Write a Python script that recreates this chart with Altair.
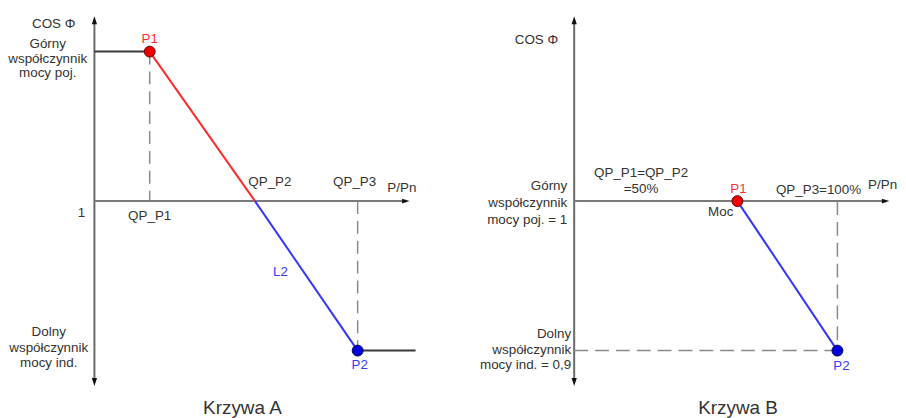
import altair as alt
import pandas as pd

# ---- values ----
# P/Pn positions (in units of QP_P3) and levels (+1 upper PF, 0 = cos phi 1, -1 lower PF)
a_p = [0.21, 0.61, 1.0]        # Krzywa A: QP_P1, QP_P2, QP_P3
a_level = [1.0, 0.0, -1.0]     # P1 level, crossing level, P2 level
b_p = [0.62, 0.62, 1.0]        # Krzywa B: QP_P1 = QP_P2 (=50%), QP_P3 (=100%)
b_level = [0.0, 0.0, -1.0]     # P1 level, (same), P2 level
titles = ["Krzywa A", "Krzywa B"]
axis_top, axis_bottom, axis_right = 1.21, -1.21, 1.183
a_tail = 1.22                  # end of the flat line after P2 on curve A

FONT = "Liberation Sans"
TXT = "#333333"
RED_L, RED_T = "#ff2a2a", "#ff3030"
BLUE_L, BLUE_T = "#3535ff", "#3a3aff"

X = alt.X("x:Q", scale=alt.Scale(domain=[-0.3283, 1.1811], nice=False, zero=False), axis=None)
Y = alt.Y("y:Q", scale=alt.Scale(domain=[-1.2824, 1.2824], nice=False, zero=False), axis=None)


def seg(rows, color, width, dash=None):
    df = pd.DataFrame(rows, columns=["x", "y", "x2", "y2"])
    kw = dict(color=color, strokeWidth=width)
    if dash:
        kw["strokeDash"] = dash
    return alt.Chart(df).mark_rule(**kw).encode(x=X, y=Y, x2="x2:Q", y2="y2:Q")


def pts(rows, fill, stroke, size=120):
    df = pd.DataFrame(rows, columns=["x", "y"])
    return alt.Chart(df).mark_point(filled=True, fill=fill, stroke=stroke, strokeWidth=1,
                                    opacity=1, size=size, shape="circle").encode(x=X, y=Y)


def arrow(x, y, shape, size):
    df = pd.DataFrame({"x": [x], "y": [y]})
    return alt.Chart(df).mark_point(filled=True, fill="#111111", stroke=None, opacity=1,
                                    shape=shape, size=size).encode(x=X, y=Y)


def txt(t, x, y, dx=0, dy=0, align="center", color=TXT, size=13.5, lh=16):
    df = pd.DataFrame({"x": [x], "y": [y], "t": [t]})
    kw = dict(dx=dx, dy=dy, align=align, baseline="middle", color=color,
              fontSize=size, font=FONT)
    if "\n" in t:
        kw.update(lineBreak="\n", lineHeight=lh)
    return alt.Chart(df).mark_text(**kw).encode(x=X, y=Y, text="t:N")


UP = "M0,-0.5L0.33,0.5L-0.33,0.5Z"
DOWN = "M0,0.5L0.33,-0.5L-0.33,-0.5Z"
RIGHT = "M0.5,0L-0.5,-0.33L-0.5,0.33Z"


def axes():
    return [
        seg([[0, axis_bottom, 0, axis_top]], "#6a6a6a", 2),
        seg([[0, 0, axis_right, 0]], "#7a7a7a", 2),
        arrow(0, axis_top, UP, 256),
        arrow(0, axis_bottom, DOWN, 256),
        arrow(axis_right, 0, RIGHT, 225),
    ]


# ---- Krzywa A ----
p1, p2, p3 = a_p
up, mid, low = a_level
layers_a = axes() + [
    seg([[0, up, p1, up], [p3, low, a_tail, low]], "#3a3a3a", 2),
    seg([[p1, up, p1, mid], [p3, mid, p3, low]], "#8a8a8a", 1.5, [13, 7]),
    seg([[p1, up, p2, mid]], RED_L, 2),
    seg([[p2, mid, p3, low]], BLUE_L, 2),
    pts([[p1, up]], "#ee0000", "#6a0000"),
    pts([[p3, low]], "#0000dd", "#00005a"),
    txt("COS Φ", 0, axis_top, dx=-41, dy=4),
    txt("Górny\nwspółczynnik\nmocy poj.", 0, up, dx=-47, dy=-8, lh=15),
    txt("Dolny\nwspółczynnik\nmocy ind.", 0, low, dx=-46, dy=-19, lh=16),
    txt("1", 0, mid, dx=-13, dy=12),
    txt("QP_P1", p1, mid, dy=15),
    txt("QP_P2", p2, mid, dx=15, dy=-19),
    txt("QP_P3", p3, mid, dx=-3, dy=-19),
    txt("P/Pn", axis_right, mid, dx=-4, dy=-13),
    txt("P1", p1, up, dy=-13, color=RED_T),
    txt("L2", (p2 + p3) / 2, (mid + low) / 2, dx=-26, dy=-4, color=BLUE_T),
    txt("P2", p3, low, dx=2, dy=15, color=BLUE_T),
]
chart_a = alt.layer(*layers_a).properties(
    width=400, height=386,
    title=alt.TitleParams(titles[0], orient="bottom", fontSize=19, fontWeight="normal",
                          font=FONT, color=TXT, dx=36, baseline="alphabetic", offset=21),
)

# ---- Krzywa B ----
q1, q2, q3 = b_p
m1, m2, lo = b_level
layers_b = axes() + [
    seg([[q3, m1, q3, lo], [0, lo, q3, lo]], "#8a8a8a", 1.5, [14, 7]),
    seg([[q2, m2, q3, lo]], BLUE_L, 2),
    pts([[q1, m1]], "#ee0000", "#6a0000"),
    pts([[q3, lo]], "#0000dd", "#00005a"),
    txt("COS Φ", 0, axis_top, dx=-38, dy=20),
    txt("QP_P1=QP_P2\n=50%", q1, m1, dx=-97, dy=-28, lh=16),
    txt("P1", q1, m1, dx=1, dy=-12, color=RED_T),
    txt("Moc", q1, m1, dx=-4, dy=11, align="right"),
    txt("QP_P3=100%", q3, m1, dx=-19, dy=-11),
    txt("P/Pn", axis_right, m1, dx=-3, dy=-16),
    txt("Górny\nwspółczynnik\nmocy poj. = 1", 0, m1, dx=-7, dy=-15, align="right", lh=17),
    txt("Dolny\nwspółczynnik\nmocy ind. = 0,9", 0, lo, dx=-3, dy=-17, align="right", lh=16),
    txt("P2", q3, lo, dx=4, dy=16, color=BLUE_T),
]
chart_b = alt.layer(*layers_b).properties(
    width=400, height=386,
    title=alt.TitleParams(titles[1], orient="bottom", fontSize=19, fontWeight="normal",
                          font=FONT, color=TXT, dx=52, baseline="alphabetic", offset=21),
)

chart = alt.hconcat(chart_a, chart_b, spacing=83, bounds="flush").properties(
    padding=0, background="white"
).configure_view(strokeWidth=0)

chart.save("out.html", embed_options={"renderer": "svg", "actions": False})
